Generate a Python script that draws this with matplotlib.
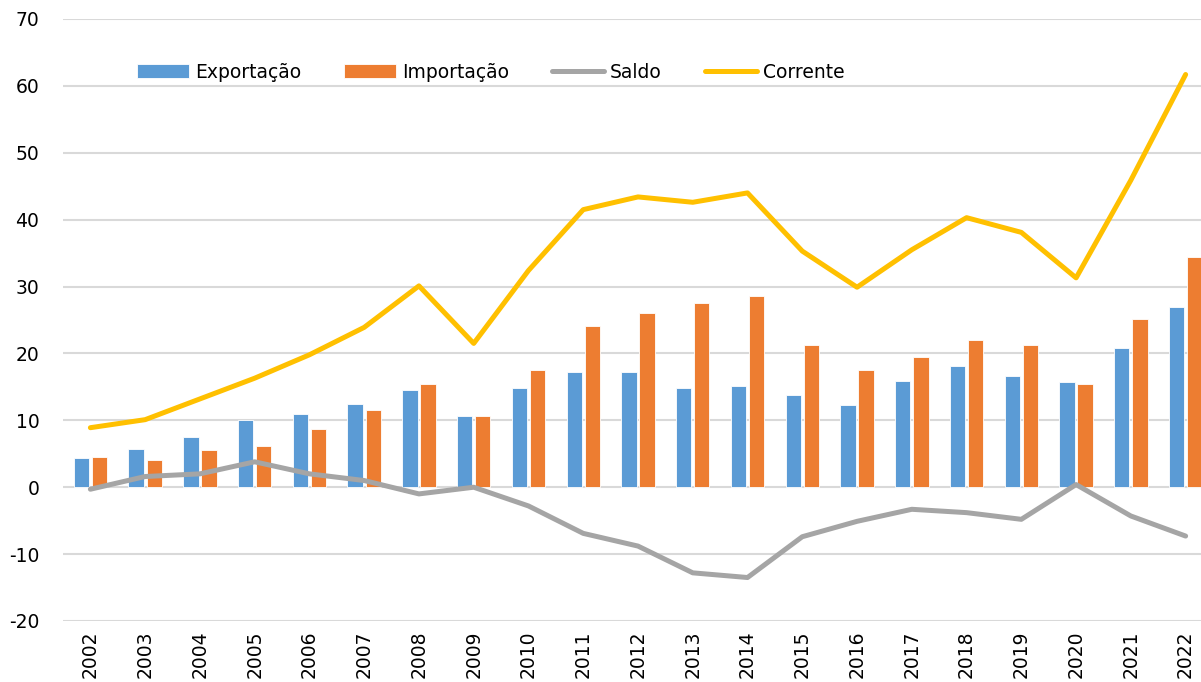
import matplotlib
matplotlib.use('Agg')
import matplotlib.pyplot as plt
import numpy as np

plt.rcParams['font.family'] = ['DejaVu Sans']
plt.rcParams['axes.unicode_minus'] = False

years = [str(y) for y in range(2002, 2023)]
exportacao = [4.3, 5.7, 7.5, 10.0, 10.9, 12.4, 14.5, 10.6, 14.8, 17.3, 17.2,
              14.9, 15.2, 13.8, 12.3, 15.9, 18.1, 16.6, 15.7, 20.8, 27.0]
importacao = [4.5, 4.1, 5.5, 6.1, 8.7, 11.6, 15.4, 10.6, 17.5, 24.1, 26.0,
              27.5, 28.6, 21.2, 17.5, 19.4, 22.0, 21.3, 15.5, 25.1, 34.4]
saldo = [-0.3, 1.6, 2.0, 3.8, 2.0, 1.0, -1.0, 0.0, -2.8, -6.9, -8.8,
         -12.8, -13.5, -7.4, -5.1, -3.3, -3.8, -4.8, 0.4, -4.3, -7.3]
corrente = [8.9, 10.1, 13.2, 16.3, 19.8, 23.9, 30.1, 21.5, 32.4, 41.5, 43.4,
            42.6, 44.0, 35.3, 29.9, 35.5, 40.3, 38.1, 31.3, 45.9, 61.7]

fig = plt.figure(figsize=(12.01, 6.82), dpi=100)
ax = fig.add_axes([63 / 1201, 61 / 682, 1150 / 1201, 602 / 682])

x = np.arange(len(years))
w = 0.28
b1 = ax.bar(x - w / 2 - 0.025, exportacao, w, color='#5B9BD5', edgecolor='white',
            linewidth=0.6, label='Exportação', zorder=2)
b2 = ax.bar(x + w / 2 + 0.025, importacao, w, color='#ED7D31', edgecolor='white',
            linewidth=0.6, label='Importação', zorder=2)
l1, = ax.plot(x, saldo, color='#A5A5A5', lw=3.6, label='Saldo', zorder=3,
              solid_capstyle='round', solid_joinstyle='round')
l2, = ax.plot(x, corrente, color='#FFC000', lw=3.6, label='Corrente', zorder=3,
              solid_capstyle='round', solid_joinstyle='round')

ax.set_xlim(-0.5, len(years) - 0.5)
ax.set_ylim(-20, 70)
ax.set_yticks(range(-20, 71, 10))
ax.set_xticks(x)
ax.set_xticklabels(years, rotation=90)
ax.tick_params(axis='both', length=0, labelsize=13.5, colors='black')
ax.tick_params(axis='x', pad=7)
ax.tick_params(axis='y', pad=17)
ax.yaxis.grid(True, color='#D9D9D9', lw=1.5, zorder=0)
ax.set_axisbelow(True)
for s in ax.spines.values():
    s.set_visible(False)

fig.legend(handles=[b1, b2, l1, l2], loc='center left',
           bbox_to_anchor=(137 / 1201, 1 - 72 / 682),
           ncol=4, frameon=False, fontsize=13.5, handlelength=2.77,
           handletextpad=0.32, columnspacing=2.3, borderpad=0, borderaxespad=0)

fig.savefig('out.png', dpi=100)
